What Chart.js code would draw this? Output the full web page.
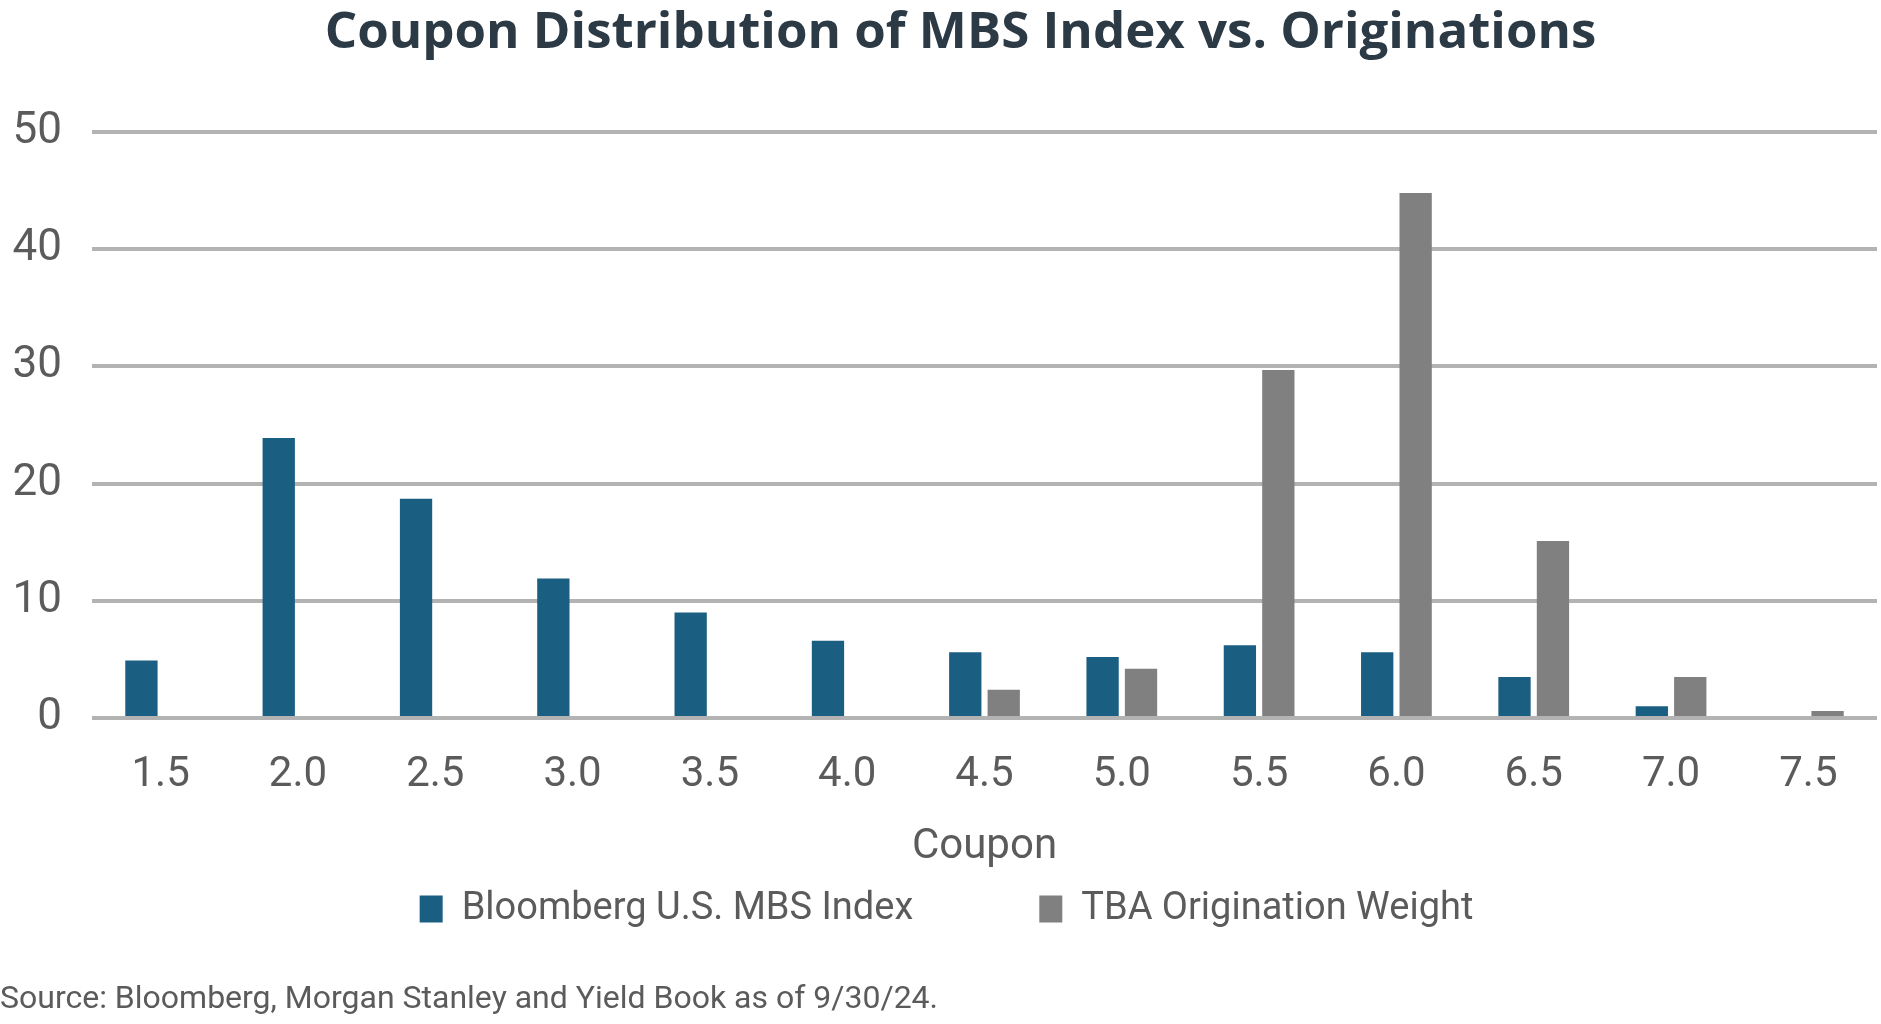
<!DOCTYPE html>
<html>
<head>
<meta charset="utf-8">
<script src="https://cdn.jsdelivr.net/npm/chart.js@4.4.1/dist/chart.umd.min.js"></script>
<style>
  html, body { margin: 0; padding: 0; background: #ffffff; }
  #wrap { width: 1881px; height: 1024px; }
</style>
</head>
<body>
<div id="wrap"><canvas id="couponChart" width="1881" height="1024"></canvas></div>
<script>
const coupons = ['1.5', '2.0', '2.5', '3.0', '3.5', '4.0', '4.5', '5.0', '5.5', '6.0', '6.5', '7.0', '7.5'];
const mbsIndex = [4.9, 23.9, 18.7, 11.9, 9.0, 6.6, 5.6, 5.2, 6.2, 5.6, 3.5, 1.0, null];
const tbaWeight = [null, null, null, null, null, null, 2.4, 4.2, 29.7, 44.8, 15.1, 3.5, 0.6];
const yTicks = [0, 10, 20, 30, 40, 50];

const bodyFont = "Roboto, 'Noto Sans', sans-serif";
const textGrey = '#5b5b5b';

// nudge title and legend after layout: legend items sit higher than their
// slot (wide item gap), title is centred a bit right of the canvas middle
const boxNudge = {
    id: 'boxNudge',
    afterLayout(chart) {
        const lg = chart.legend;
        if (lg) {
            lg.top = 764;
            lg.height = lg.bottom - lg.top;
            lg.left += 8;
            lg.right += 8;
        }
        const tb = chart.titleBlock;
        if (tb) {
            tb.left += 44;
            tb.width = tb.right - tb.left;
        }
    }
};

const ctx = document.getElementById('couponChart').getContext('2d');
new Chart(ctx, {
    type: 'bar',
    data: {
        labels: coupons,
        datasets: [
            {
                label: 'Bloomberg U.S. MBS Index',
                data: mbsIndex,
                backgroundColor: '#1a5e81'
            },
            {
                label: 'TBA Origination Weight',
                data: tbaWeight,
                backgroundColor: '#808080'
            }
        ]
    },
    plugins: [boxNudge],
    options: {
        responsive: false,
        animation: false,
        devicePixelRatio: 1,
        categoryPercentage: 0.56,
        barPercentage: 0.84,
        layout: { padding: { left: 0, right: 4, top: 0, bottom: 0 } },
        plugins: {
            title: {
                display: true,
                text: 'Coupon Distribution of MBS Index vs. Originations',
                color: '#2c3a46',
                font: { family: "'Open Sans', Lato, sans-serif", size: 51, weight: 'bold' },
                padding: { top: 3, bottom: 67.8 }
            },
            subtitle: {
                display: true,
                position: 'bottom',
                align: 'start',
                text: 'Source: Bloomberg, Morgan Stanley and Yield Book as of 9/30/24.',
                color: textGrey,
                font: { family: bodyFont, size: 32 },
                padding: { top: 50.4, bottom: 5 }
            },
            legend: {
                position: 'bottom',
                maxHeight: 58,
                labels: {
                    color: textGrey,
                    font: { family: bodyFont, size: 38 },
                    boxWidth: 23,
                    boxHeight: 27,
                    padding: 126
                }
            },
            tooltip: { enabled: false }
        },
        scales: {
            x: {
                grid: { display: false, drawTicks: false },
                border: { display: false },
                afterFit: function (axis) {
                    axis.height = 154.2;
                },
                ticks: {
                    color: textGrey,
                    font: { family: bodyFont, size: 42 },
                    padding: 32
                },
                title: {
                    display: true,
                    text: 'Coupon',
                    color: textGrey,
                    font: { family: bodyFont, size: 42 },
                    padding: { top: 0, bottom: 0 }
                }
            },
            y: {
                min: 0,
                max: 50,
                afterBuildTicks: function (axis) {
                    axis.ticks = yTicks.map(v => ({ value: v }));
                },
                afterFit: function (axis) {
                    axis.width = 92;
                },
                grid: { color: '#b3b3b3', lineWidth: 4, drawTicks: false },
                border: { display: false },
                ticks: {
                    color: textGrey,
                    font: { family: bodyFont, size: 44 },
                    padding: 30
                }
            }
        }
    }
});
</script>
</body>
</html>
